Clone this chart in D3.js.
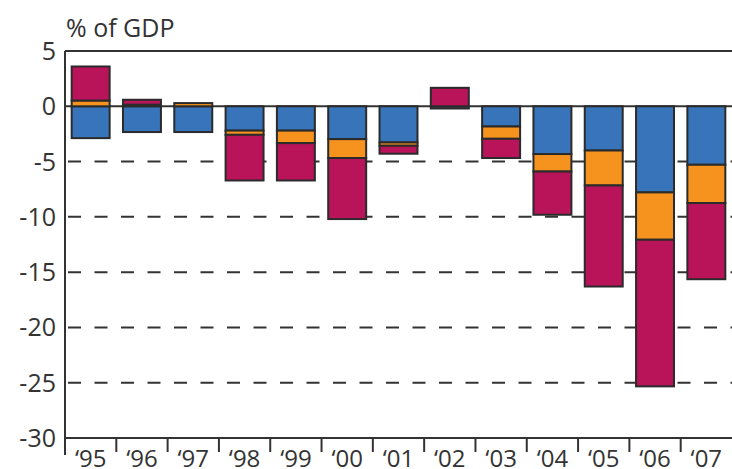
<!DOCTYPE html>
<html>
<head>
<meta charset="utf-8">
<script src="https://cdn.jsdelivr.net/npm/d3@7"></script>
<style>
  body { margin: 0; background: #fff; }
  text { font-family: "Open Sans", sans-serif; fill: #333; }
</style>
</head>
<body>
<svg id="chart" width="732" height="469"></svg>
<script>
// years on the x axis
var years = ['95', '96', '97', '98', '99', '00', '01', '02', '03', '04', '05', '06', '07'];
// segments, % of GDP
var blue    = [-2.88, -2.33, -2.33, -2.2, -2.2, -2.97, -3.27, -0.2, -1.83, -4.32, -4.0, -7.79, -5.29];
var orange  = [0.52, 0.15, 0.29, -0.38, -1.13, -1.71, -0.3, 0, -1.11, -1.58, -3.16, -4.28, -3.46];
var magenta = [3.08, 0.44, 0, -4.13, -3.38, -5.52, -0.72, 1.67, -1.74, -3.91, -9.14, -13.26, -6.89];
var yTicks = [5, 0, -5, -10, -15, -20, -25, -30];
var gridVals = [-5, -10, -15, -20, -25];

var keys = ['blue', 'orange', 'magenta'];
var colours = { blue: '#3774b9', orange: '#f6931e', magenta: '#b9135a' };

var rows = years.map(function(yr, i) {
  return { year: yr, blue: blue[i], orange: orange[i], magenta: magenta[i] };
});

var svg = d3.select('#chart');
var plotLeft = 65, plotRight = 732, plotTop = 51, plotBottom = 438;

var x = d3.scaleBand().domain(years).range([plotLeft, plotRight])
          .paddingInner(0.26).paddingOuter(0.13);
var y = d3.scaleLinear().domain([-30, 5]).range([plotBottom, plotTop]);

// dashed grid lines behind the bars
svg.selectAll('.grid')
  .data(gridVals)
  .enter().append('line')
    .attr('x1', plotLeft + 3).attr('x2', plotRight)
    .attr('y1', function(d) { return y(d); })
    .attr('y2', function(d) { return y(d); })
    .attr('stroke', '#333').attr('stroke-width', 2)
    .attr('stroke-dasharray', '13,13.5');

// zero line
svg.append('line')
  .attr('x1', plotLeft).attr('x2', plotRight)
  .attr('y1', y(0)).attr('y2', y(0))
  .attr('stroke', '#333').attr('stroke-width', 2);

var series = d3.stack().keys(keys).offset(d3.stackOffsetDiverging)(rows);

svg.selectAll('.series')
  .data(series)
  .enter().append('g')
    .attr('fill', function(d) { return colours[d.key]; })
  .selectAll('rect')
  .data(function(d) { return d.filter(function(p) { return p[1] !== p[0]; }); })
  .enter().append('rect')
    .attr('x', function(d) { return x(d.data.year); })
    .attr('width', x.bandwidth())
    .attr('y', function(d) { return y(Math.max(d[0], d[1])); })
    .attr('height', function(d) { return Math.abs(y(d[0]) - y(d[1])); })
    .attr('stroke', '#2b2b2b').attr('stroke-width', 2);

// frame: top line, y axis, x axis
svg.append('line')
  .attr('x1', plotLeft).attr('x2', plotRight).attr('y1', plotTop).attr('y2', plotTop)
  .attr('stroke', '#333').attr('stroke-width', 2);
svg.append('line')
  .attr('x1', plotLeft).attr('x2', plotLeft).attr('y1', plotTop).attr('y2', 455)
  .attr('stroke', '#333').attr('stroke-width', 2);
svg.append('line')
  .attr('x1', plotLeft).attr('x2', plotRight).attr('y1', plotBottom).attr('y2', plotBottom)
  .attr('stroke', '#333').attr('stroke-width', 2);

// ticks between categories
var step = x.step();
svg.selectAll('.xtick')
  .data(years.slice(1))
  .enter().append('line')
    .attr('x1', function(d) { return x(d) - (step - x.bandwidth()) / 2; })
    .attr('x2', function(d) { return x(d) - (step - x.bandwidth()) / 2; })
    .attr('y1', plotBottom).attr('y2', 452)
    .attr('stroke', '#333').attr('stroke-width', 2);

// x labels
svg.selectAll('.xlabel')
  .data(years)
  .enter().append('text')
    .attr('x', function(d) { return x(d) + x.bandwidth() / 2; })
    .attr('y', 467)
    .attr('text-anchor', 'middle')
    .style('font-size', '24px')
    .text(function(d) { return '\u2018' + d; });

// y labels
svg.selectAll('.ylabel')
  .data(yTicks)
  .enter().append('text')
    .attr('x', 56)
    .attr('y', function(d) { return y(d); })
    .attr('dy', '0.36em')
    .attr('text-anchor', 'end')
    .style('font-size', '25px')
    .text(function(d) { return d; });

svg.append('text')
  .attr('x', 66).attr('y', 37)
  .style('font-size', '25px')
  .text('% of GDP');
</script>
</body>
</html>
